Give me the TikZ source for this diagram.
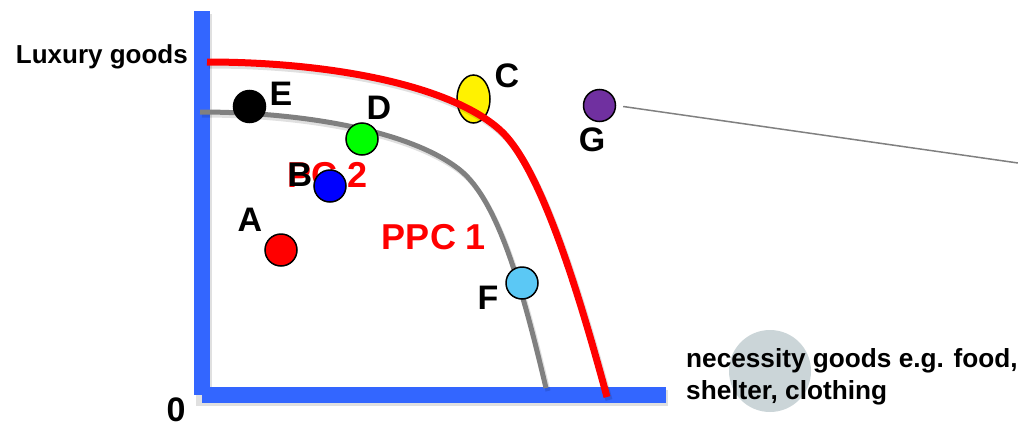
\documentclass[tikz,border=0pt]{standalone}
\usepackage{fontspec}
\setmainfont{Liberation Sans}
\definecolor{axisblue}{RGB}{51,102,255}
\definecolor{curvegray}{RGB}{128,128,128}
\definecolor{dotgreen}{RGB}{0,255,0}
\definecolor{dotcyan}{RGB}{91,200,245}
\definecolor{dotpurple}{RGB}{112,48,160}
\definecolor{diskgray}{RGB}{203,213,216}
\begin{document}
\begin{tikzpicture}[x=1pt,y=-1pt,
  lbl/.style={font=\fontsize{34}{34}\selectfont\bfseries, inner sep=0pt},
  ppc/.style={font=\fontsize{36}{36}\selectfont\bfseries, text=red, inner sep=0pt},
  axistext/.style={font=\fontsize{26.2}{32}\selectfont\bfseries, inner sep=0pt},
  dot/.style={circle, draw=black, line width=1.5pt, minimum size=32pt, inner sep=0pt},
  axisline/.style={line width=16pt, draw=axisblue},
  shade/.style={draw=black, opacity=0.12},
]
\useasboundingbox (0,0) rectangle (1018,426);

% axes (with faint shadows)
\draw[shade, line width=16pt] (204,14) -- (204,398) -- (668,398);
\coordinate (ytop) at (202,11);
\coordinate (origin) at (202,395);
\coordinate (xend) at (666,395);
\draw[axisline] (ytop) -- (origin);
\draw[axisline] (origin) -- (xend);

% axis texts
\node[font=\fontsize{26}{26}\selectfont\bfseries, inner sep=0pt, anchor=base east] (lux) at (188,63) {Luxury goods};
\node[lbl] (zero) at (176,410) {0};
\fill[diskgray] (770,371) circle (41);
\node[axistext, anchor=base west] (nec1) at (686,367) {necessity goods e.g. food,};
\node[axistext, anchor=base west] (nec2) at (686,399) {shelter, clothing};

% PPC 2 (grey)
\begin{scope}[shift={(2,3)}]
\draw[shade, line width=5pt] (200,112) .. controls (300,112) and (410,130) .. (460,170) .. controls (500,202) and (525,300) .. (546,388);
\end{scope}
\draw[curvegray, line width=5pt] (200,112) .. controls (300,112) and (410,130) .. (460,170) .. controls (500,202) and (525,300) .. (546,388);

% PPC 2 label, partly hidden
\node[ppc, anchor=base west] (ppc2) at (263,187) {PPC 2};
\fill[white] (258,158) rectangle (286,192);
\node[lbl] (lB) at (300,175) {B};
\node[dot, fill=blue] (B) at (330,186) {};

\node[ppc] (ppc1) at (434,237) {PPC 1};

% points on / inside PPC 2
\node[dot, fill=black] (E) at (249.5,106.5) {};
\node[lbl] (lE) at (281,94) {E};
\node[dot, fill=dotgreen] (D) at (362,139) {};
\node[lbl] (lD) at (379,108) {D};
\node[dot, fill=dotcyan] (F) at (522,283) {};
\node[lbl] (lF) at (488,298) {F};
\node[dot, fill=red] (A) at (281,250) {};
\node[lbl] (lA) at (250,220) {A};

% C (ellipse) under PPC 1
\draw[black, line width=1.5pt, fill=yellow] (473.5,99) ellipse (16.5 and 24);
\node[inner sep=0pt] (C) at (473.5,99) {};
\node[lbl] (lC) at (507,76) {C};

% PPC 1 (red)
\begin{scope}[shift={(2,3)}]
\draw[shade, line width=7pt] (207,62) .. controls (330,62) and (450,85) .. (500,130) .. controls (540,166) and (578,290) .. (607,397);
\end{scope}
\draw[red, line width=7pt] (207,62) .. controls (330,62) and (450,85) .. (500,130) .. controls (540,166) and (578,290) .. (607,397);

% G and its pointer line
\node[dot, fill=dotpurple] (G) at (599.5,105.5) {};
\node[lbl] (lG) at (592,140) {G};
\coordinate (lineend) at (1018,163);
\draw[curvegray, line width=1.5pt, shorten <=7pt] (G.east) -- (lineend);
\end{tikzpicture}
\end{document}
